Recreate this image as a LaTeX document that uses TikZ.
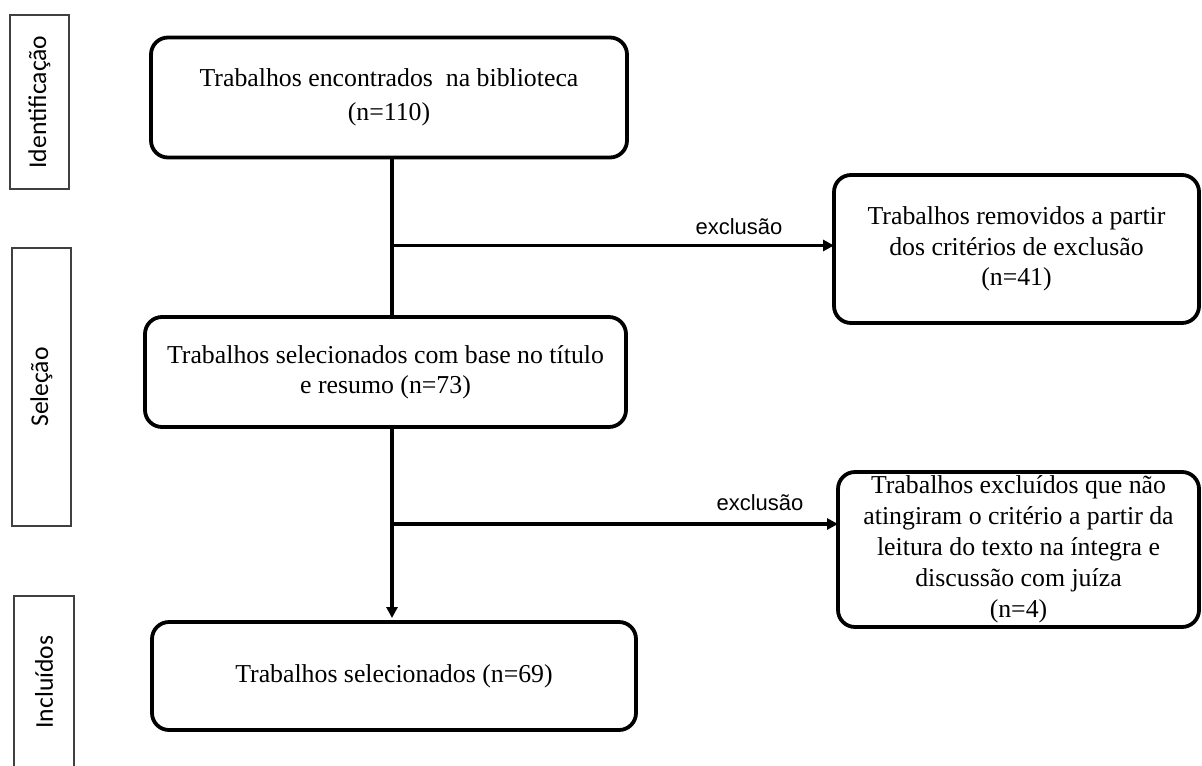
\documentclass[tikz,border=0pt]{standalone}
\usepackage{fontspec}
\setmainfont{Liberation Serif}
\newfontfamily\lblfont{Carlito}
\newfontfamily\arialfont{Liberation Sans}
\usetikzlibrary{arrows.meta}
\begin{document}
\begin{tikzpicture}[x=0.5pt,y=-0.5pt,
  flowbox/.style={draw, line width=1.9pt, rounded corners=8.5pt, inner sep=0pt, outer sep=0pt, align=center, font=\fontsize{12.9}{15.5}\selectfont},
  phase/.style={draw=black!75, line width=0.9pt, rotate=90, inner sep=0pt, outer sep=0pt, font=\lblfont\fontsize{12.8}{15}\selectfont},
  conn/.style={line width=1.6pt},
  arr/.style={conn, -{Triangle[length=5.5pt,width=5.5pt]}},
  exlabel/.style={font=\arialfont\fontsize{11}{13}\selectfont, anchor=base, inner sep=0pt}]
\useasboundingbox (0,0) rectangle (1202,765);

% phase labels
\node[phase, minimum width=87pt, minimum height=29.5pt] (pid) at (39.5,102) {Identificação};
\node[phase, minimum width=139pt, minimum height=29.5pt] (psel) at (41.5,387) {Seleção};
\node[phase, minimum width=86pt, minimum height=30pt] (pinc) at (44,682) {Incluídos};

% main boxes
\node[flowbox, minimum width=238pt, minimum height=60pt, font=\fontsize{12.9}{17}\selectfont] (b1) at (389,97.5)
  {Trabalhos encontrados\ \ na biblioteca\\(n=110)};
\node[flowbox, minimum width=240.5pt, minimum height=55pt, font=\fontsize{12.9}{15}\selectfont] (b2) at (385.5,372)
  {Trabalhos selecionados com base no título\\e resumo (n=73)};
\node[flowbox, minimum width=242pt, minimum height=54pt] (b3) at (394,676)
  {Trabalhos selecionados (n=69)};

% right boxes
\node[flowbox, minimum width=182.5pt, minimum height=74pt, font=\fontsize{12.9}{15.25}\selectfont] (r1) at (1016.5,249)
  {Trabalhos removidos a partir\\dos critérios de exclusão\\(n=41)};
\node[flowbox, minimum width=180.5pt, minimum height=77.5pt] (r2) at (1018.5,549.5)
  {Trabalhos excluídos que não\\atingiram o critério a partir da\\leitura do texto na íntegra e\\discussão com juíza\\(n=4)};

% connectors
\coordinate (j1) at (392,245.5);
\coordinate (j2) at (392,524);
\draw[conn] (b1.south -| j1) -- (b2.north -| j1);
\draw[arr] (j1) -- (j1 -| r1.west) node[exlabel, pos=0.785, yshift=5.75pt] (lab1) {exclusão};
\draw[conn] (b2.south -| j2) -- (j2);
\draw[arr, shorten >=2pt] (j2) -- (b3.north -| j2);
\draw[arr] (j2) -- (j2 -| r2.west) node[exlabel, pos=0.825, yshift=7pt] (lab2) {exclusão};
\end{tikzpicture}
\end{document}
